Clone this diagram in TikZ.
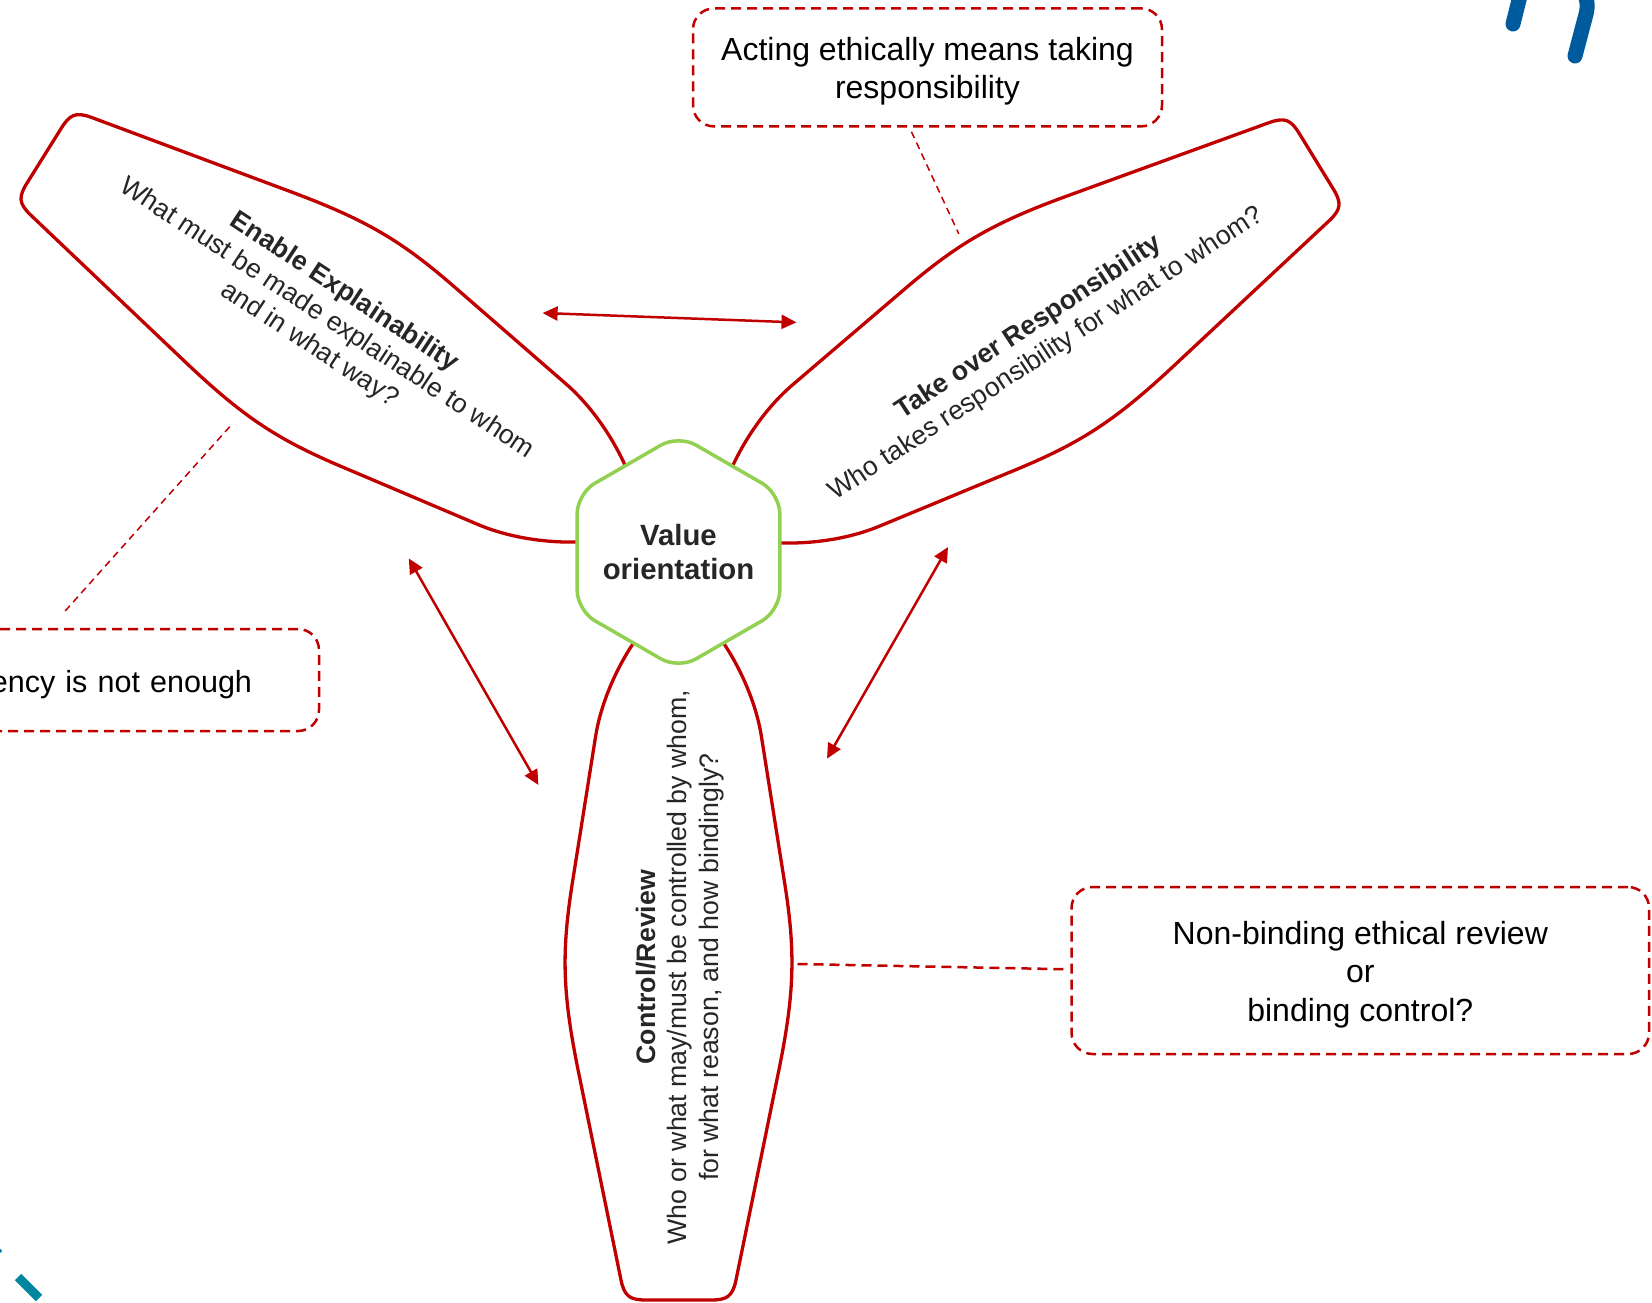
\documentclass[tikz,border=0pt]{standalone}
\usepackage{fontspec}
\setmainfont{Liberation Sans}
\usetikzlibrary{arrows.meta}

\definecolor{petalred}{RGB}{192,0,0}
\definecolor{hubgreen}{RGB}{146,208,80}
\definecolor{inkgray}{RGB}{38,38,38}
\definecolor{decoblue}{RGB}{0,91,158}
\definecolor{decoteal}{RGB}{0,134,160}

\tikzset{
  petal/.style={draw=petalred, line width=3.3pt, fill=white, line join=round},
  % one propeller blade, pointing along +x from the hub centre
  petalshape/.pic={
    \path[petal] (60,20) .. controls (90,50) and (140,76) .. (185,83)
      -- (330,106) .. controls (400,117.1) and (440,116.3) .. (520,100)
      -- (728,57.5) .. controls (745,54) and (748,48) .. (748,32)
      -- (748,-32) .. controls (748,-48) and (745,-54) .. (728,-57.5)
      -- (520,-100) .. controls (440,-116.3) and (400,-117.1) .. (330,-106)
      -- (185,-83) .. controls (140,-76) and (90,-50) .. (60,-20)
      -- cycle;
  },
  hubline/.style={draw=hubgreen, line width=3.5pt, fill=white, rounded corners=20pt},
  hubtext/.style={text=inkgray, align=center, inner sep=0pt,
    font=\bfseries\fontsize{29.3}{33.7}\selectfont},
  petaltext/.style={text=inkgray, align=center, inner sep=0pt,
    font=\fontsize{26.7}{31.5}\selectfont},
  notebox/.style={draw=petalred, line width=2.5pt, dash pattern=on 10pt off 6pt,
    rounded corners=21pt, align=center, text=black, inner sep=0pt,
    font=\fontsize{32}{38.5}\selectfont},
  thinlink/.style={draw=petalred, line width=1.5pt, dash pattern=on 7pt off 5pt},
  thicklink/.style={draw=petalred, line width=2.5pt, dash pattern=on 10pt off 6pt},
  biarrow/.style={draw=petalred, line width=2.5pt,
    {Triangle[length=15pt,width=14pt]}-{Triangle[length=15pt,width=14pt]}},
}
% extra room above the first line of a note
\newcommand\noteroom{\rule{0pt}{31pt}}

\begin{document}
\begin{tikzpicture}[x=1pt,y=-1pt]
\useasboundingbox (0,0) rectangle (1652,1303);
\clip (0,0) rectangle (1652,1303);

% decorative strokes in the corners
\draw[decoblue, line width=15pt, line cap=round] (1521,-8) -- (1513,24);
\draw[decoblue, line width=15pt, line cap=round] (1584,-8) .. controls (1588,2) and (1588,8) .. (1585,18) -- (1575,56);
\draw[decoteal, line width=9pt] (18,1277) -- (39,1298);
\draw[decoteal, line width=9pt] (-12,1243) -- (-1,1254);

% the three blades around the hub
\pic (explainPetal) [rotate=148] at (678.5,552) {petalshape};
\pic (respPetal) [rotate=31.5] at (678.5,552) {petalshape};
\pic (controlPetal) [rotate=-90] at (678.5,552) {petalshape};

% hub
\draw[hubline] (779.8,552) -- (779.8,610.5) -- (678.5,669) -- (577.2,610.5)
  -- (577.2,493.5) -- (678.5,435) -- (779.8,493.5) -- cycle;
\node[hubtext] (hub) at (678.5,552) {Value\\orientation};

% blade texts
\node[petaltext, rotate=-33.3] (explain) at (326.6,318.7)
  {\textbf{Enable Explainability}\\What must be made explainable to whom\\and in what way?};
\node[petaltext, rotate=33.3] (resp) at (1037.5,341)
  {\textbf{Take over Responsibility}\\Who takes responsibility for what to whom?};
\node[petaltext, rotate=90] (control) at (679.6,967.2)
  {\textbf{Control/Review}\\Who or what may/must be controlled by whom,\\for what reason, and how bindingly?};

% notes
\node[notebox, minimum width=469pt, minimum height=118pt] (ethics) at (927.5,67.4)
  {\noteroom Acting ethically means taking\\responsibility};
\node[notebox, minimum width=532pt, minimum height=102pt, text width=398pt, align=right,
  font=\fontsize{30.5}{37}\selectfont]
  (transp) at (53,680) {\noteroom ency is not enough};
\node[notebox, minimum width=577.5pt, minimum height=167pt] (review) at (1360.3,970.5)
  {\noteroom Non-binding ethical review\\or\\binding control?};

% anchors of the links
\coordinate (ethicsFoot) at (911.4,131.7);
\coordinate (respEdge) at (958.8,233.9);
\coordinate (explainEdge) at (229.7,426.7);
\coordinate (transpTop) at (63.2,613.2);
\coordinate (controlEdge) at (797.5,964);
\coordinate (reviewEdge) at (1069,969.3);

\draw[thinlink] (ethicsFoot) -- (respEdge);
\draw[thinlink] (explainEdge) -- (transpTop);
\draw[thicklink] (controlEdge) -- (reviewEdge);

% mutual relations between the blades
\coordinate (arrTopL) at (542.6,313);
\coordinate (arrTopR) at (796.5,322.4);
\coordinate (arrLeftA) at (408.8,558.4);
\coordinate (arrLeftB) at (538.4,785);
\coordinate (arrRightA) at (948,547);
\coordinate (arrRightB) at (827,758.6);

\draw[biarrow] (arrTopL) -- (arrTopR);
\draw[biarrow] (arrLeftA) -- (arrLeftB);
\draw[biarrow] (arrRightA) -- (arrRightB);
\end{tikzpicture}
\end{document}
